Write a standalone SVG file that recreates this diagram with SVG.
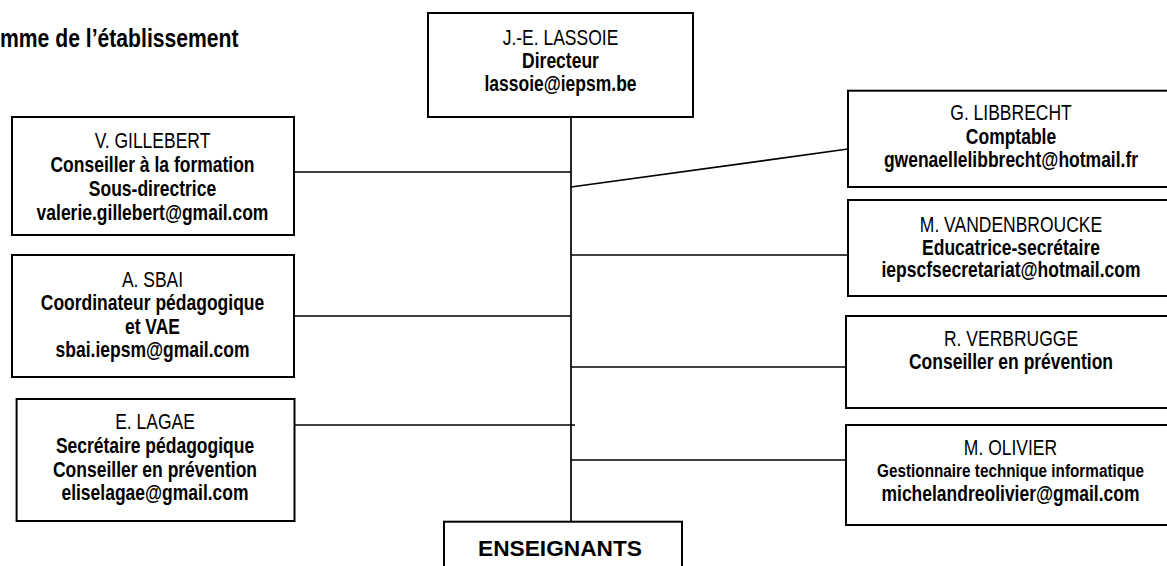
<svg xmlns="http://www.w3.org/2000/svg" width="1167" height="566" viewBox="0 0 1167 566">
<style>
.box{fill:#fff;stroke:#000;stroke-width:2}
.t{font-family:"Liberation Sans",Arial,sans-serif;font-size:21.33px;fill:#000;text-anchor:middle}
.b{font-weight:bold}
.s{font-size:18.67px}
.conn line{stroke:#000;stroke-width:1.7;fill:none}
</style>
<rect x="0" y="0" width="1167" height="566" fill="#fff"/>
<g id="title" transform="translate(0,0) scale(0.82,1)">
<text x="0" y="46.7" style="font-family:'Liberation Sans',Arial,sans-serif;font-size:25.8px;font-weight:bold;fill:#000">mme de l’établissement</text>
</g>
<g id="connectors" class="conn">
<line x1="571" y1="117" x2="571" y2="521"/>
<line x1="294" y1="172" x2="571" y2="172"/>
<line x1="571" y1="187" x2="848" y2="149"/>
<line x1="571" y1="255" x2="848" y2="255"/>
<line x1="294" y1="316" x2="571" y2="316"/>
<line x1="571" y1="367" x2="846" y2="367"/>
<line x1="294" y1="425" x2="575" y2="425"/>
<line x1="571" y1="460" x2="846" y2="460"/>
</g>
<g id="lassoie">
<rect class="box" x="428" y="13" width="265" height="104"/>
<g transform="translate(560.5,0) scale(0.82,1)">
<text class="t" x="0" y="45">J.-E. LASSOIE</text>
<text class="t b" x="0" y="68.3">Directeur</text>
<text class="t b" x="0" y="91">lassoie@iepsm.be</text>
</g>
</g>
<g id="gillebert">
<rect class="box" x="12" y="117" width="282" height="118"/>
<g transform="translate(152.5,0) scale(0.82,1)">
<text class="t" x="0" y="148.3">V. GILLEBERT</text>
<text class="t b" x="0" y="172.3">Conseiller à la formation</text>
<text class="t b" x="0" y="196.3">Sous-directrice</text>
<text class="t b" x="0" y="220.3">valerie.gillebert@gmail.com</text>
</g>
</g>
<g id="sbai">
<rect class="box" x="12" y="255" width="282" height="122"/>
<g transform="translate(152.5,0) scale(0.82,1)">
<text class="t" x="0" y="287">A. SBAI</text>
<text class="t b" x="0" y="310.5">Coordinateur pédagogique</text>
<text class="t b" x="0" y="334">et VAE</text>
<text class="t b" x="0" y="357.5">sbai.iepsm@gmail.com</text>
</g>
</g>
<g id="lagae">
<rect class="box" x="16.6" y="399" width="277.9" height="122"/>
<g transform="translate(155,0) scale(0.82,1)">
<text class="t" x="0" y="429">E. LAGAE</text>
<text class="t b" x="0" y="453">Secrétaire pédagogique</text>
<text class="t b" x="0" y="477">Conseiller en prévention</text>
<text class="t b" x="0" y="500.5">eliselagae@gmail.com</text>
</g>
</g>
<g id="libbrecht">
<rect class="box" x="848" y="90.7" width="328" height="96.3"/>
<g transform="translate(1011,0) scale(0.82,1)">
<text class="t" x="0" y="120">G. LIBBRECHT</text>
<text class="t b" x="0" y="143.7">Comptable</text>
<text class="t b" x="0" y="167">gwenaellelibbrecht@hotmail.fr</text>
</g>
</g>
<g id="vandenbroucke">
<rect class="box" x="848" y="200" width="328" height="96"/>
<g transform="translate(1011,0) scale(0.82,1)">
<text class="t" x="0" y="231.7">M. VANDENBROUCKE</text>
<text class="t b" x="0" y="255">Educatrice-secrétaire</text>
<text class="t b" x="0" y="277.5">iepscfsecretariat@hotmail.com</text>
</g>
</g>
<g id="verbrugge">
<rect class="box" x="846" y="316" width="330" height="92"/>
<g transform="translate(1011,0) scale(0.82,1)">
<text class="t" x="0" y="346">R. VERBRUGGE</text>
<text class="t b" x="0" y="369.3">Conseiller en prévention</text>
</g>
</g>
<g id="olivier">
<rect class="box" x="846" y="425" width="330" height="100"/>
<g transform="translate(1010.5,0) scale(0.82,1)">
<text class="t" x="0" y="455">M. OLIVIER</text>
<text class="t b s" x="0" y="476.7">Gestionnaire technique informatique</text>
<text class="t b" x="0" y="500.7">michelandreolivier@gmail.com</text>
</g>
</g>
<g id="enseignants">
<rect class="box" x="444" y="521.7" width="238" height="60"/>
<text class="t b" x="560" y="555.7" style="font-size:22px" textLength="164" lengthAdjust="spacingAndGlyphs">ENSEIGNANTS</text>
</g>
</svg>
